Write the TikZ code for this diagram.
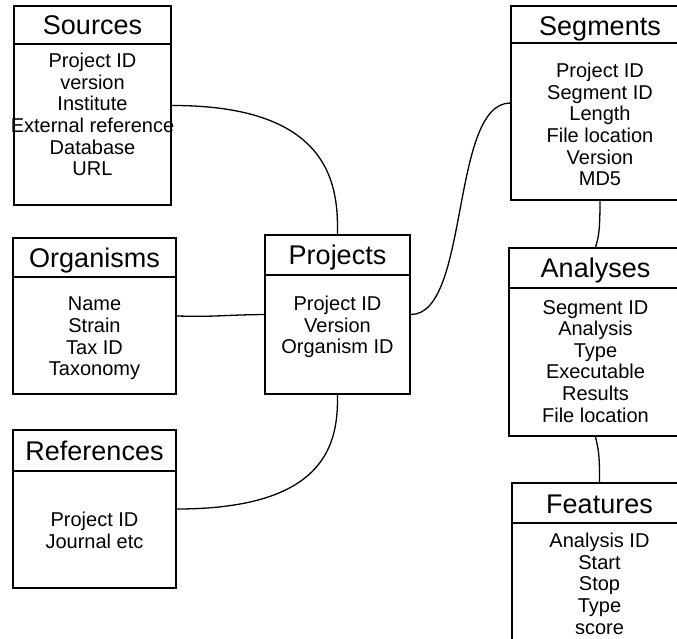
\documentclass[tikz,border=0pt]{standalone}
\usepackage{fontspec}
\setmainfont{Liberation Sans}
\begin{document}
\begin{tikzpicture}[x=1pt,y=-1pt,
  tbl/.style={draw, line width=1.3pt, inner sep=0pt, rectangle},
  hdr/.style={anchor=base, inner sep=0pt, font=\fontsize{27}{30}\selectfont},
  body/.style={anchor=north, inner sep=0pt, align=center, font=\fontsize{20}{21.6}\selectfont},
  conn/.style={draw, line width=1.3pt}]
\clip (0,0) rectangle (677,638);
\fill[white] (0,0) rectangle (677,638);

% Sources
\node[tbl, minimum width=157pt, minimum height=199pt] (src) at (92.5,105.5) {};
\draw[line width=1.3pt] (14,44) -- (171,44);
\node[hdr] (srch) at (92.5,34) {Sources};
\node[body] (srcb) at (92.5,53) {Project ID\\version\\Institute\\External reference\\Database\\URL};

% Organisms
\node[tbl, minimum width=163pt, minimum height=156pt] (org) at (94.5,316) {};
\draw[line width=1.3pt] (13,277) -- (176,277);
\node[hdr] (orgh) at (94.5,267) {Organisms};
\node[body] (orgb) at (94.5,297) {Name\\Strain\\Tax ID\\Taxonomy};

% Projects
\node[tbl, minimum width=145pt, minimum height=159pt] (prj) at (337.5,314.5) {};
\draw[line width=1.3pt] (265,275) -- (410,275);
\node[hdr] (prjh) at (337.5,264) {Projects};
\node[body] (prjb) at (337.5,296) {Project ID\\Version\\Organism ID};

% References
\node[tbl, minimum width=163pt, minimum height=158pt] (ref) at (94.5,509) {};
\draw[line width=1.3pt] (13,471) -- (176,471);
\node[hdr] (refh) at (94.5,460) {References};
\node[body] (refb) at (94.5,512) {Project ID\\Journal etc};

% Segments
\node[tbl, minimum width=178pt, minimum height=194pt] (seg) at (600,103) {};
\draw[line width=1.3pt] (511,43) -- (689,43);
\node[hdr] (segh) at (600,35) {Segments};
\node[body] (segb) at (600,63) {Project ID\\Segment ID\\Length\\File location\\Version\\MD5};

% Analyses
\node[tbl, minimum width=173pt, minimum height=188pt] (ana) at (595.5,342) {};
\draw[line width=1.3pt] (509,288) -- (682,288);
\node[hdr] (anah) at (595.5,277) {Analyses};
\node[body] (anab) at (595.5,300) {Segment ID\\Analysis\\Type\\Executable\\Results\\File location};

% Features
\node[tbl, minimum width=175pt, minimum height=177pt] (fea) at (599.5,571.5) {};
\draw[line width=1.3pt] (512,523) -- (687,523);
\node[hdr] (feah) at (599.5,513) {Features};
\node[body] (feab) at (599.5,533) {Analysis ID\\Start\\Stop\\Type\\score};

% Connectors
\draw[conn] (src.east) .. controls (335,105) and (338,190) .. (prj.north);
\draw[conn] (org.east) .. controls (220,317) and (220,315) .. (prj.west);
\draw[conn] (ref.east) .. controls (330,509) and (338,440) .. (prj.south);
\draw[conn] (prj.east) .. controls (470,315) and (450,103) .. (seg.west);
\draw[conn] (seg.south) .. controls (600,235) and (598,238) .. (ana.north);
\draw[conn] (ana.south) .. controls (597,445) and (600,450) .. (fea.north);
\end{tikzpicture}
\end{document}
